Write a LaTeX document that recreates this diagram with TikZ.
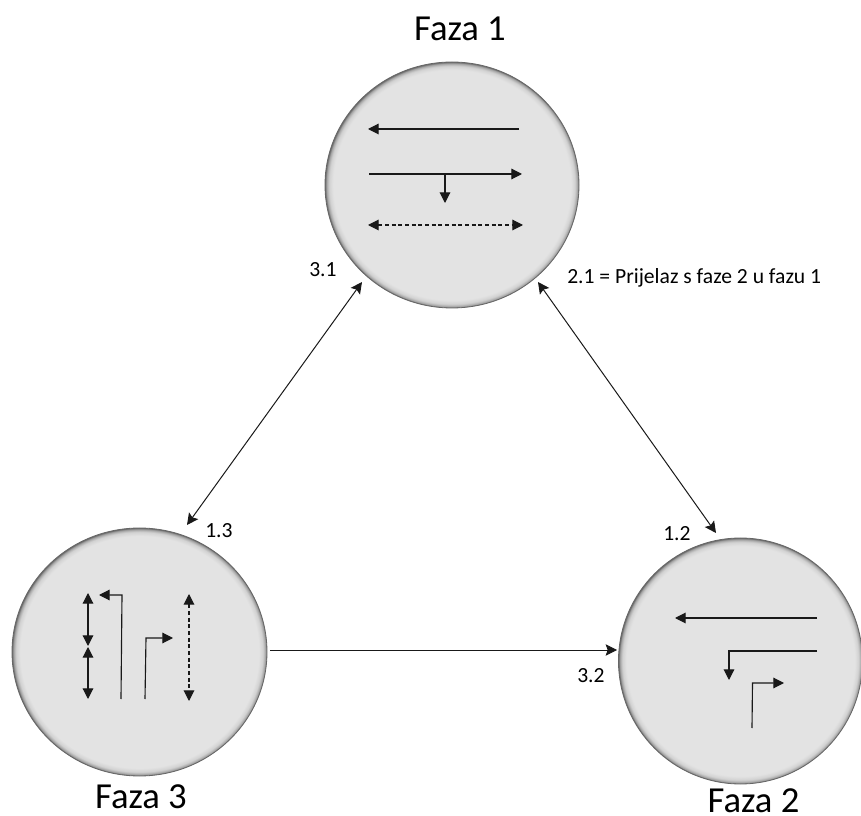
\documentclass[tikz,border=0pt]{standalone}
\usepackage{fontspec}
\setmainfont{Carlito}
\usetikzlibrary{arrows.meta,shapes.geometric}
\pgfdeclareradialshading{phase}{\pgfpoint{0bp}{0bp}}{%
  color(0bp)=(black!11); color(23.4bp)=(black!11); color(24.2bp)=(black!18);
  color(24.7bp)=(black!36); color(25bp)=(black!60); color(50bp)=(black!60)}
\tikzset{
  x=0.75pt,y=-0.75pt,
  phase node/.style={ellipse,shading=phase,draw=black!60,line width=0.6pt,inner sep=0pt,
     minimum width=#1},
  link/.style={line width=0.75pt,black!90,{Stealth[length=8.5pt,width=8.5pt,inset=1.5pt]}-{Stealth[length=8.5pt,width=8.5pt,inset=1.5pt]}},
  oneway/.style={line width=0.75pt,black!90,-{Stealth[length=8.5pt,width=8.5pt,inset=1.5pt]}},
  lane/.style={line width=0.85pt,black!90,-{Triangle[length=8pt,width=8pt]}},
  lane2/.style={line width=0.85pt,black!90,{Triangle[length=8pt,width=8pt]}-{Triangle[length=8pt,width=8pt]}},
  lanedash/.style={line width=0.8pt,black!90,densely dashed,{Triangle[length=8pt,width=8pt]}-{Triangle[length=8pt,width=8pt]}},
  title/.style={font=\fontsize{27.5}{30}\selectfont,anchor=base,inner sep=0pt},
  small/.style={font=\fontsize{16.2}{18}\selectfont,anchor=base west,inner sep=0pt},
}
\begin{document}
\begin{tikzpicture}
\useasboundingbox (0,0) rectangle (861,816);
\node[phase node=190.5pt,minimum height=184.5pt] (c1) at (452,185) {};
\node[phase node=191.25pt,minimum height=186pt] (c3) at (139.5,652) {};
\node[phase node=183pt,minimum height=184.5pt] (c2) at (740.5,661) {};
\node[title] (t1) at (460,41) {Faza 1};
\node[title] (t3) at (141,808) {Faza 3};
\node[title] (t2) at (753.5,812) {Faza 2};
\node[small] (l31) at (309,277) {3.1};
\node[small] (l21) at (567,284) {2.1 = Prijelaz s faze 2 u fazu 1};
\node[small] (l13) at (205,538) {1.3};
\node[small] (l12) at (663,541) {1.2};
\node[small] (l32) at (577,682) {3.2};
% connectors
\coordinate (a1) at (362,282); \coordinate (a3) at (187,525);
\coordinate (b1) at (538,282); \coordinate (b2) at (716,533);
\coordinate (d3) at (270,650); \coordinate (d2) at (617,650);
\draw[link] (a1) -- (a3);
\draw[link] (b1) -- (b2);
\draw[oneway] (d3) -- (d2);
% phase 1
\draw[lane] (519,129) -- (368,129);
\draw[lane] (369,174) -- (522,174);
\draw[lane] (445,174) -- (445,203);
\draw[lanedash] (368,225) -- (523,225);
% phase 3
\draw[lane2] (88,593) -- (88,646);
\draw[lane2] (88,647) -- (88,699);
\draw[lane] (121,699) -- (122,595) -- (99,595);
\draw[lane] (145,699) -- (146,638) -- (173,638);
\draw[lanedash] (189,594) -- (189,701);
% phase 2
\draw[lane] (817,618) -- (675,618);
\draw[lane] (817,651) -- (729,651) -- (729,680);
\draw[lane] (752,728) -- (752.5,683) -- (784,683);
\end{tikzpicture}
\end{document}
